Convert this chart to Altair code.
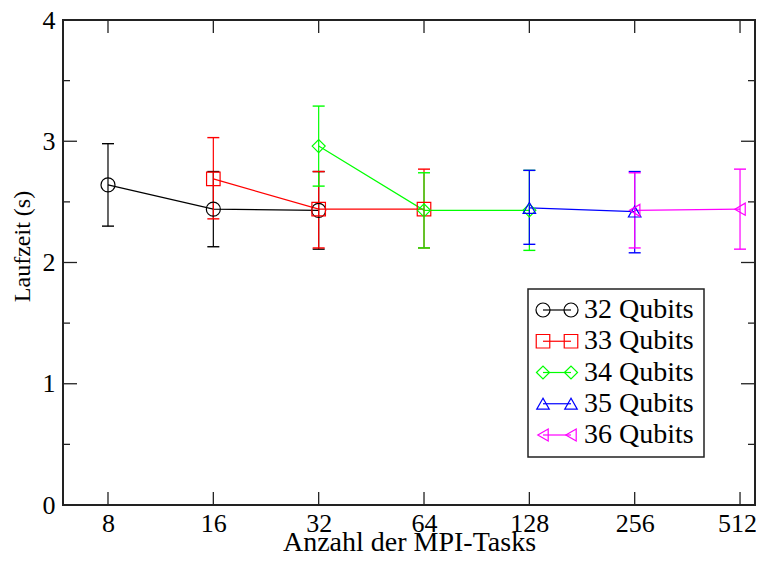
import altair as alt
import pandas as pd

# ---- data ----
series = ["32 Qubits", "33 Qubits", "34 Qubits", "35 Qubits", "36 Qubits"]
colors = ["#000000", "#ff0000", "#00ff00", "#0000ff", "#ff00ff"]
shapes = ["circle", "square", "diamond", "triangle-up", "triangle-left"]
marker_sizes = [196, 144, 196, 196, 196]

tasks_32 = [8, 16, 32]
time_32 = [2.64, 2.44, 2.43]
lo_32 = [2.30, 2.13, 2.11]
hi_32 = [2.98, 2.75, 2.75]

tasks_33 = [16, 32, 64]
time_33 = [2.69, 2.44, 2.44]
lo_33 = [2.36, 2.12, 2.12]
hi_33 = [3.03, 2.75, 2.77]

tasks_34 = [32, 64, 128]
time_34 = [2.96, 2.43, 2.43]
lo_34 = [2.63, 2.12, 2.10]
hi_34 = [3.29, 2.74, 2.76]

tasks_35 = [128, 256]
time_35 = [2.45, 2.42]
lo_35 = [2.15, 2.08]
hi_35 = [2.76, 2.75]

tasks_36 = [256, 512]
time_36 = [2.43, 2.44]
lo_36 = [2.12, 2.11]
hi_36 = [2.74, 2.77]

x_ticks = [8, 16, 32, 64, 128, 256, 512]
y_major = [0, 1, 2, 3, 4]
y_minor = [0.5, 1.5, 2.5, 3.5]

# ---- table ----
rows = []
for name, t, v, lo, hi in [
    (series[0], tasks_32, time_32, lo_32, hi_32),
    (series[1], tasks_33, time_33, lo_33, hi_33),
    (series[2], tasks_34, time_34, lo_34, hi_34),
    (series[3], tasks_35, time_35, lo_35, hi_35),
    (series[4], tasks_36, time_36, lo_36, hi_36),
]:
    for a, b, c, d in zip(t, v, lo, hi):
        rows.append({"series": name, "tasks": a, "time": b, "lo": c, "hi": d})
df = pd.DataFrame(rows)

W, H = 692, 485
FONT = "Liberation Serif"

xscale = alt.Scale(type="log", base=2, domain=[5.95, 565], nice=False)
yscale = alt.Scale(domain=[0, 4], nice=False, zero=False)
cscale = alt.Scale(domain=series, range=colors)
sscale = alt.Scale(domain=series, range=shapes)
zscale = alt.Scale(domain=series, range=marker_sizes)

axis_style = dict(ticks=False, domain=False, grid=False,
                  labelFont=FONT, titleFont=FONT, labelFontSize=26,
                  labelColor="black", titleColor="black", titleFontWeight="normal")
x_axis = alt.Axis(values=x_ticks, format="d", title="Anzahl der MPI-Tasks",
                  labelPadding=5, titleFontSize=28, titleBaseline="alphabetic",
                  titleY=45,
                  labelOffset=alt.ExprRef("datum.value == 512 ? -3 : 0"),
                  **axis_style)
y_axis = alt.Axis(values=y_major, format="d", title="Laufzeit (s)",
                  labelPadding=8, titlePadding=8, titleFontSize=24, titleY=226,
                  **axis_style)


def XQ(field):
    return alt.X(field, type="quantitative", scale=xscale, axis=x_axis)


def YQ(field):
    return alt.Y(field, type="quantitative", scale=yscale, axis=y_axis)


C = alt.Color("series:N", scale=cscale, legend=None)

base = alt.Chart(df)
lines = base.mark_line(strokeWidth=1.2).encode(
    x=XQ("tasks"), y=YQ("time"), color=C, detail="series:N", order="tasks:Q")
errs = base.mark_rule(strokeWidth=1.2).encode(
    x=XQ("tasks"), y=YQ("lo"), y2="hi:Q", color=C)
cap_lo = base.mark_point(shape="stroke", size=144, strokeWidth=1.4, opacity=1).encode(
    x=XQ("tasks"), y=YQ("lo"), color=C)
cap_hi = base.mark_point(shape="stroke", size=144, strokeWidth=1.4, opacity=1).encode(
    x=XQ("tasks"), y=YQ("hi"), color=C)
points = base.mark_point(filled=False, strokeWidth=1.2, opacity=1).encode(
    x=XQ("tasks"), y=YQ("time"),
    color=C,
    shape=alt.Shape("series:N", scale=sscale, legend=None),
    size=alt.Size("series:N", scale=zscale, legend=None))

# frame and inward ticks
frame = alt.Chart(pd.DataFrame({"k": [0]})).mark_rect(
    fill="transparent", stroke="#222", strokeWidth=2).encode(
    x=alt.value(0), x2=alt.value(W), y=alt.value(0), y2=alt.value(H))
xt = alt.Chart(pd.DataFrame({"tasks": x_ticks}))
tick_bottom = xt.mark_rule(color="#222", strokeWidth=1.3).encode(
    x=XQ("tasks"), y=alt.value(H), y2=alt.value(H - 13))
tick_top = xt.mark_rule(color="#222", strokeWidth=1.3).encode(
    x=XQ("tasks"), y=alt.value(0), y2=alt.value(13))
ym = alt.Chart(pd.DataFrame({"time": y_major}))
yn = alt.Chart(pd.DataFrame({"time": y_minor}))
tick_l_major = ym.mark_rule(color="#222", strokeWidth=1.3).encode(
    y=YQ("time"), x=alt.value(0), x2=alt.value(14))
tick_r_major = ym.mark_rule(color="#222", strokeWidth=1.3).encode(
    y=YQ("time"), x=alt.value(W), x2=alt.value(W - 14))
tick_l_minor = yn.mark_rule(color="#222", strokeWidth=1.3).encode(
    y=YQ("time"), x=alt.value(0), x2=alt.value(7))
tick_r_minor = yn.mark_rule(color="#222", strokeWidth=1.3).encode(
    y=YQ("time"), x=alt.value(W), x2=alt.value(W - 7))

main = alt.layer(lines, tick_bottom, tick_top, tick_l_major, tick_r_major,
                 tick_l_minor, tick_r_minor, errs, cap_lo, cap_hi, points, frame)

# legend box
leg = alt.Chart(pd.DataFrame({"series": series, "row": list(range(len(series)))}))
LY = alt.Y("row:Q", scale=alt.Scale(domain=[0, 4], range=[290, 415]), axis=None)
box = alt.Chart(pd.DataFrame({"k": [0]})).mark_rect(
    fill="white", stroke="#222", strokeWidth=1.5).encode(
    x=alt.value(465), x2=alt.value(641), y=alt.value(269), y2=alt.value(437))
leg_line = leg.mark_rule(strokeWidth=1.2).encode(
    x=alt.value(480), x2=alt.value(508), y=LY, color=C)
leg_p1 = leg.mark_point(filled=False, strokeWidth=1.2, opacity=1).encode(
    x=alt.value(480), y=LY, color=C,
    shape=alt.Shape("series:N", scale=sscale, legend=None),
    size=alt.Size("series:N", scale=zscale, legend=None))
leg_p2 = leg.mark_point(filled=False, strokeWidth=1.2, opacity=1).encode(
    x=alt.value(508), y=LY, color=C,
    shape=alt.Shape("series:N", scale=sscale, legend=None),
    size=alt.Size("series:N", scale=zscale, legend=None))
leg_text = leg.mark_text(align="left", baseline="middle", fontSize=28, font=FONT,
                         color="black").encode(x=alt.value(521), y=LY, text="series:N")
legend = alt.layer(box, leg_line, leg_p1, leg_p2, leg_text)

chart = alt.layer(main, legend).resolve_scale(y="independent").properties(
    width=W, height=H,
    autosize=alt.AutoSizeParams(type="none"),
    padding={"left": 55, "top": 12, "right": 1, "bottom": 49},
).configure_view(strokeWidth=0).configure(background="white")

chart.save("out.html", embed_options={"renderer": "svg", "actions": False})
